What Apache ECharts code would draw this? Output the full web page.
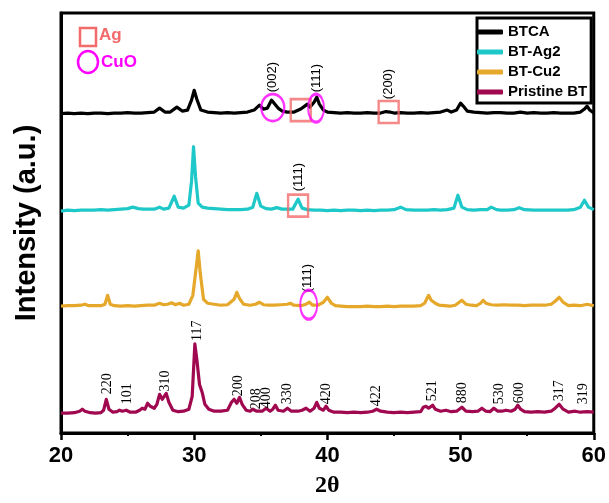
<!DOCTYPE html>
<html><head><meta charset="utf-8">
<script src="https://cdn.jsdelivr.net/npm/echarts@6/dist/echarts.min.js"></script>
<style>html,body{margin:0;padding:0;background:#fff}#c{width:609px;height:503px}</style>
</head><body><div id="c"></div>
<script>
// ---- data (2θ, intensity above own baseline, a.u.) ----
const seriesNames = ['BTCA', 'BT-Ag2', 'BT-Cu2', 'Pristine BT'];
const offsets = [322, 224, 127, 19];
const btca = [[20,0.5],[20.5,1],[21,0.5],[21.5,1],[22,0.5],[22.5,1],[23,1],[23.5,0.5],[24,1],[24.5,1],[25,1.5],[25.5,1],[26,1],[26.5,1.5],[27,2],[27.4,6],[27.8,2],[28.2,2],[28.7,7],[29.1,3],[29.5,4],[29.8,14],[30.0,24],[30.2,15],[30.5,4],[31,2],[31.5,1.5],[32,1],[32.5,1.5],[33,1],[33.5,1.5],[34,2],[34.5,4],[34.9,9],[35.2,5],[35.5,6],[35.8,14],[36.0,11],[36.3,6],[36.6,3],[37,2],[37.5,2],[38.0,5],[38.3,8],[38.5,10],[38.7,7],[39.0,12],[39.2,17],[39.4,10],[39.7,4],[40,2],[40.5,1.5],[41,1],[41.5,1.5],[42,1],[42.5,1],[43,1.5],[43.5,1],[44,1],[44.4,2.5],[44.7,2],[45,1],[45.5,1.5],[46,1],[46.5,1],[47,1.5],[47.5,1],[48,1.5],[48.5,2],[49,4],[49.3,2],[49.7,4],[50.0,11],[50.2,8],[50.5,3],[51,2],[51.5,1.5],[52,1],[52.5,1.5],[53,1.5],[53.5,1],[54,1],[54.5,2],[55,1],[55.5,1.5],[56,1],[56.5,1],[57,1.5],[57.5,1],[58,1],[58.5,1],[59,2],[59.3,5],[59.5,8],[59.7,4],[60,1]];
const btAg2 = [[20,0],[20.5,1],[21,0.5],[21.5,1],[22,1],[22.5,1],[23,1.5],[23.5,1],[24,1.5],[24.5,2],[25,2.5],[25.4,4],[25.8,2.5],[26.2,2],[26.6,2],[27,2],[27.4,4],[27.7,2],[28.1,3],[28.5,15],[28.8,4],[29.2,3],[29.6,6],[29.8,30],[29.95,65],[30.1,35],[30.3,8],[30.6,4],[31,3],[31.5,2.5],[32,2],[32.5,1.5],[33,1.5],[33.5,1.5],[34,2],[34.4,4],[34.7,18],[35.0,5],[35.4,2.5],[35.8,2],[36.2,3.5],[36.6,2],[37,2],[37.4,2],[37.8,12],[38.1,3],[38.5,1.5],[39,1],[39.5,1],[40,0.5],[40.5,1],[41,0.5],[41.5,1],[42,1],[42.5,0.5],[43,1],[43.5,0.5],[44,1],[44.5,1],[45,1.5],[45.5,4],[45.9,1.5],[46.5,1],[47,1],[47.5,1],[48,1.5],[48.5,1],[49,1.5],[49.5,3],[49.8,16],[50.1,4],[50.5,1.5],[51,1],[51.5,1.5],[52,1.5],[52.3,4],[52.7,1.5],[53,1],[53.5,1],[54,1.5],[54.4,3.5],[54.8,1.5],[55.5,1],[56,1],[56.5,1],[57,1],[57.5,1],[58,1],[58.5,1.5],[59,4],[59.3,11],[59.6,4],[60,1.5]];
const btCu2 = [[20,1],[20.5,1.5],[21,1.5],[21.5,2],[21.8,3],[22.1,1.5],[22.5,1.5],[23,1.5],[23.3,3],[23.5,12],[23.7,3],[24,1.5],[24.5,1],[25,1.5],[25.5,1],[26,1.5],[26.5,2],[27,2],[27.4,4],[27.7,2.5],[28,3],[28.3,4.5],[28.6,2.5],[28.9,4],[29.2,2],[29.6,3],[29.9,12],[30.15,40],[30.3,57],[30.45,35],[30.7,8],[31,4],[31.5,3],[32,2],[32.5,2.5],[33.0,8],[33.2,15],[33.4,9],[33.7,3],[34.2,2],[34.6,3],[34.9,5],[35.2,2.5],[35.6,2],[36,2],[36.5,2.5],[37,3],[37.2,4],[37.5,2],[38,1.5],[38.4,3],[38.65,5],[38.9,2],[39.3,2],[39.7,5],[40.0,10],[40.3,4],[40.6,1.5],[41,1],[41.5,0.5],[42,0.5],[42.5,0.5],[43,1],[43.5,0.5],[44,0.5],[44.5,1],[45,0.5],[45.5,1],[46,1],[46.5,1],[47,1.5],[47.3,4],[47.6,12],[47.8,7],[48.1,4],[48.4,2],[48.8,1.5],[49.2,1],[49.6,2],[50.1,7],[50.4,3],[50.8,2],[51.2,1.5],[51.5,4],[51.7,7],[51.9,4],[52.3,2.5],[52.8,2],[53.3,2.5],[53.8,2],[54.3,2],[54.8,1.5],[55.3,2],[55.8,2],[56.3,2],[56.8,3],[57.1,6],[57.4,10],[57.7,5],[58.1,1.5],[58.5,2],[59,1.5],[59.5,3],[60,1.5]];
const pristine = [[20,1],[20.5,1],[21,1.5],[21.4,3],[21.6,5],[21.8,3],[22.2,1.5],[22.6,1],[23,1.5],[23.2,4],[23.4,15],[23.6,5],[23.9,2],[24.2,2.5],[24.4,4],[24.6,3],[24.9,4],[25.2,2],[25.6,2],[25.9,4],[26.1,6],[26.3,5],[26.5,11],[26.7,8],[26.85,9],[27.0,6],[27.2,10],[27.4,20],[27.6,15],[27.9,21],[28.1,12],[28.4,4],[28.8,2.5],[29.2,3],[29.6,5],[29.85,18],[30.05,71],[30.2,55],[30.4,30],[30.6,22],[30.8,10],[31.1,5],[31.5,3],[32,3],[32.5,4],[32.8,12],[33.0,15],[33.2,11],[33.4,17],[33.6,10],[33.9,4],[34.2,3],[34.4,5],[34.7,3],[35.1,3],[35.4,6],[35.7,3],[35.9,5],[36.1,9],[36.3,4],[36.7,3],[37.0,6],[37.3,3],[37.8,3],[38.1,4],[38.4,6],[38.7,3],[39.0,6],[39.2,12],[39.4,6],[39.7,4],[39.9,8],[40.1,4],[40.5,2],[41,2],[41.5,1.5],[42,2],[42.5,1.5],[43,2],[43.4,3],[43.7,5],[44,3],[44.5,2],[45,1.5],[45.5,2],[46,1.5],[46.5,2],[47,2.5],[47.2,7],[47.4,8],[47.6,6],[47.9,9],[48.1,5],[48.5,3],[48.9,4],[49.3,2.5],[49.7,3],[50.1,7],[50.4,3],[50.9,2.5],[51.3,3],[51.6,6],[51.9,3],[52.2,2.5],[52.5,6],[52.8,3],[53.1,3],[53.4,4],[53.8,3],[54.1,5],[54.3,9],[54.5,5],[54.8,2.5],[55.3,2],[55.8,2.5],[56.3,2],[56.8,3],[57.1,6],[57.4,10],[57.7,5],[58.1,2],[58.6,3],[59,2],[59.5,2.5],[60,2]];
const xTicks = [20, 30, 40, 50, 60];

// hkl labels on Pristine BT: text, 2θ, label start height (a.u.)
const hklText = ['220','101','310','117','200','208','400','330','420','422','521','880','530','600','317','319'];
const hklX    = [23.5, 25.0, 27.8, 30.2, 33.3, 34.7, 35.4, 37.0, 39.9, 43.7, 47.9, 50.1, 52.9, 54.4, 57.4, 59.25];
const hklY    = [39, 29, 42, 93, 37, 24, 25, 29, 29, 27, 32, 30, 29, 30, 32, 29];

// phase peak labels
const peakText = ['(002)', '(111)', '(200)', '(111)', '(111)'];
const peakX    = [35.9, 39.2, 44.6, 37.8, 38.5];
const peakY    = [344, 344, 337, 244, 142];

// Ag (square) and CuO (circle) markers
const agX = [38.0, 44.6, 37.8];
const agY = [326, 324, 229.5];
const cuoX = [35.9, 39.15, 38.6];
const cuoY = [328.5, 328, 129.5];
const cuoSize = [[23, 27], [16, 28], [17, 29]];

const colors = ['#000000', '#1ec8c8', '#e6a82a', '#a0084f'];
const raw = [btca, btAg2, btCu2, pristine];
const SANS = "'Liberation Sans', Arial, sans-serif";
const SERIF = "'Liberation Serif', 'Times New Roman', serif";

const chart = echarts.init(document.getElementById('c'), null, {renderer: 'canvas'});
const lineSeries = seriesNames.map((n, i) => ({
  name: n, type: 'line', showSymbol: false, symbol: 'none',
  lineStyle: {color: colors[i], width: 3.2, join: 'round'},
  itemStyle: {color: colors[i]},
  z: 2 + (3 - i),
  data: raw[i].map(p => [p[0], p[1] + offsets[i]])
}));

const textSeries = (name, texts, xs, ys, font, size) => ({
  name, type: 'scatter', symbol: 'circle', symbolSize: 2, silent: true, z: 10,
  itemStyle: {color: 'rgba(255,255,255,0)'},
  data: texts.map((t, i) => ({value: [xs[i], ys[i]], name: t})),
  label: {show: true, opacity: 1, position: 'inside', rotate: 90, align: 'left', verticalAlign: 'middle',
    formatter: '{b}',
    fontFamily: font, fontSize: size, color: '#000'},
  labelLayout: {hideOverlap: false}
});

const option = {
  animation: false,
  backgroundColor: '#fff',
  grid: {left: 61, right: 13, top: 13, bottom: 66, show: true, borderColor: '#000', borderWidth: 3, backgroundColor: 'transparent'},
  legend: {
    data: seriesNames, orient: 'vertical', left: 477, top: 18,
    padding: [6, 4, 3, 0], itemGap: 4, itemWidth: 26, itemHeight: 5, itemTextGap: 3,
    icon: 'roundRect', borderColor: '#000', borderWidth: 3, backgroundColor: '#fff',
    textStyle: {fontFamily: SANS, fontWeight: 'bold', fontSize: 15, color: '#000', lineHeight: 16}
  },
  xAxis: {
    type: 'value', min: 20, max: 60, interval: 10,
    name: '2θ', nameLocation: 'middle', nameGap: 41,
    nameTextStyle: {fontFamily: SERIF, fontWeight: 'bold', fontSize: 24, color: '#000'},
    axisLine: {show: true, lineStyle: {color: '#000', width: 3}},
    axisTick: {show: true, inside: false, length: 7, lineStyle: {color: '#000', width: 2.5}},
    minorTick: {show: true, splitNumber: 2, length: 3, lineStyle: {color: '#000', width: 2}},
    splitLine: {show: false},
    axisLabel: {margin: 12, fontFamily: SANS, fontWeight: 'bold', fontSize: 22, color: '#000',
      formatter: v => xTicks.includes(v) ? String(v) : ''}
  },
  yAxis: {
    type: 'value', min: 0, max: 424,
    name: 'Intensity (a.u.)', nameLocation: 'middle', nameGap: 20, nameRotate: 90,
    nameTextStyle: {fontFamily: SANS, fontWeight: 'bold', fontSize: 29, color: '#000'},
    axisLine: {show: true, lineStyle: {color: '#000', width: 3}},
    axisTick: {show: false}, axisLabel: {show: false}, splitLine: {show: false}
  },
  series: lineSeries.concat([
    textSeries('hkl', hklText, hklX, hklY, SERIF, 14),
    textSeries('peaks', peakText, peakX, peakY, SANS, 13),
    {
      name: 'Ag', type: 'scatter', symbol: 'rect', symbolSize: [20, 22], silent: true, z: 11,
      itemStyle: {color: 'rgba(0,0,0,0)', borderColor: '#f26a6a', borderWidth: 2.5},
      data: agX.map((x, i) => [x, agY[i]])
    },
    {
      name: 'CuO', type: 'scatter', symbol: 'circle', silent: true, z: 11,
      itemStyle: {color: 'rgba(0,0,0,0)', borderColor: '#ff00ff', borderWidth: 2.5},
      data: cuoX.map((x, i) => ({value: [x, cuoY[i]], symbolSize: cuoSize[i]}))
    }
  ]),
  graphic: [
    {type: 'rect', shape: {x: 80, y: 28, width: 16, height: 18}, style: {fill: 'none', stroke: '#f26a6a', lineWidth: 2.5}},
    {type: 'text', x: 99, y: 35, style: {text: 'Ag', fill: '#f26a6a', font: "bold 17px 'Liberation Sans', Arial, sans-serif", textVerticalAlign: 'middle'}},
    {type: 'ellipse', shape: {cx: 88, cy: 62, rx: 10, ry: 11}, style: {fill: 'none', stroke: '#ff00ff', lineWidth: 2.5}},
    {type: 'text', x: 101, y: 62, style: {text: 'CuO', fill: '#ff00ff', font: "bold 17px 'Liberation Sans', Arial, sans-serif", textVerticalAlign: 'middle'}}
  ]
};
chart.setOption(option);
</script>
</body></html>
